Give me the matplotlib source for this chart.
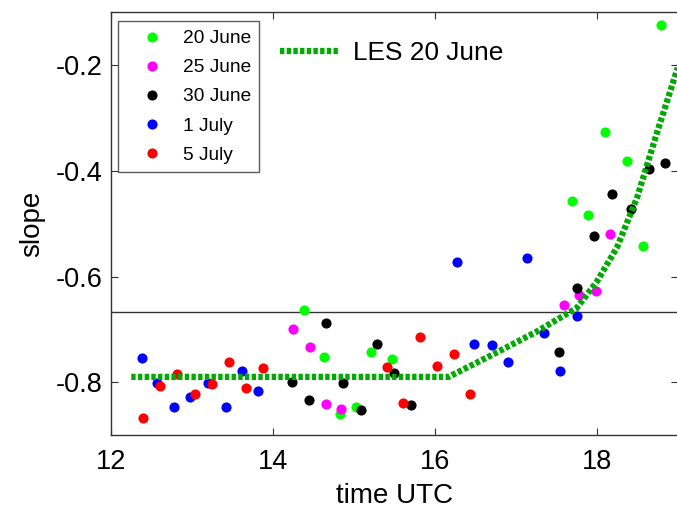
import matplotlib
matplotlib.use("Agg")
import matplotlib.pyplot as plt

plt.rcParams['font.family'] = ['Liberation Sans', 'DejaVu Sans']

# observed slopes, time in hours UTC
t_20jun = [14.39, 14.63, 14.83, 15.03, 15.21, 15.47, 17.70, 17.89, 18.10, 18.37, 18.57, 18.79]
s_20jun = [-0.664, -0.752, -0.860, -0.847, -0.742, -0.756, -0.457, -0.483, -0.326, -0.382, -0.542, -0.124]

t_25jun = [14.25, 14.46, 14.65, 14.84, 17.59, 17.78, 17.99, 18.17]
s_25jun = [-0.700, -0.734, -0.842, -0.850, -0.654, -0.635, -0.628, -0.520]

t_30jun = [14.23, 14.44, 14.65, 14.86, 15.09, 15.28, 15.49, 15.71, 17.54, 17.76, 17.97, 18.19, 18.42, 18.64, 18.84]
s_30jun = [-0.799, -0.833, -0.688, -0.801, -0.853, -0.728, -0.782, -0.844, -0.742, -0.621, -0.524, -0.443, -0.472, -0.396, -0.385]

t_1jul = [12.38, 12.57, 12.78, 12.97, 13.20, 13.42, 13.62, 13.82, 16.28, 16.49, 16.71, 16.91, 17.14, 17.35, 17.55, 17.76]
s_1jul = [-0.754, -0.801, -0.847, -0.828, -0.801, -0.847, -0.778, -0.816, -0.572, -0.728, -0.729, -0.761, -0.565, -0.707, -0.778, -0.674]

t_5jul = [12.39, 12.61, 12.82, 13.04, 13.25, 13.46, 13.67, 13.88, 15.41, 15.61, 15.82, 16.03, 16.24, 16.44]
s_5jul = [-0.867, -0.808, -0.785, -0.822, -0.804, -0.761, -0.811, -0.773, -0.772, -0.839, -0.715, -0.770, -0.746, -0.822]

# LES curve for 20 June
t_les = [12.25, 16.17, 16.75, 17.25, 17.75, 18.0, 18.25, 18.5, 18.75, 19.0]
s_les = [-0.79, -0.79, -0.745, -0.705, -0.66, -0.61, -0.545, -0.45, -0.325, -0.205]

fig = plt.figure(figsize=(6.77, 5.08), dpi=100)
ax = fig.add_axes([0.164, 0.1437, 0.837, 0.832])

ax.axhline(-2/3, color='#333333', lw=1)

series = [(t_20jun, s_20jun, '#00ff00', '20 June'),
          (t_25jun, s_25jun, '#ff00ff', '25 June'),
          (t_30jun, s_30jun, 'black', '30 June'),
          (t_1jul, s_1jul, '#0000ff', '1 July'),
          (t_5jul, s_5jul, '#ff0000', '5 July')]
handles = []
for t, s, c, lab in series:
    h, = ax.plot(t, s, 'o', color=c, ms=7.3, mew=0, label=lab)
    handles.append(h)

les, = ax.plot(t_les, s_les, color='#00aa00', lw=4.5,
               linestyle=(0, (0.7, 0.37)), dash_capstyle='butt', label='LES 20 June')

ax.set_xlim(12, 19)
ax.set_ylim(-0.9, -0.1)
ax.set_xticks([12, 14, 16, 18])
ax.set_yticks([-0.8, -0.6, -0.4, -0.2])
ax.set_yticklabels(['-0.8', '-0.6', '-0.4', '-0.2'])
ax.tick_params(direction='in', length=5, width=0.8, colors='#333333',
               labelcolor='black', labelsize=19.5, top=True, right=True)
ax.tick_params(axis='x', pad=10)
ax.tick_params(axis='y', pad=6)
for sp in ax.spines.values():
    sp.set_color('#333333')
    sp.set_linewidth(1)
ax.set_xlabel('time UTC', fontsize=20, labelpad=6)
ax.set_ylabel('slope', fontsize=20, labelpad=8)

leg1 = ax.legend(handles=handles, loc='upper left', bbox_to_anchor=(0.0129, 0.979),
                 borderaxespad=0, fontsize=13.8, frameon=True, fancybox=False,
                 edgecolor='#333333', borderpad=0.45, handlelength=2.65,
                 handletextpad=0.25, labelspacing=0.61)
leg1.get_frame().set_linewidth(1)
ax.add_artist(leg1)

ax.legend(handles=[les], loc='center left', bbox_to_anchor=(0.298, 0.903),
          borderaxespad=0, borderpad=0, frameon=False, fontsize=18.9,
          handlelength=2.25, handletextpad=0.53)

fig.savefig('out.png', dpi=100)
